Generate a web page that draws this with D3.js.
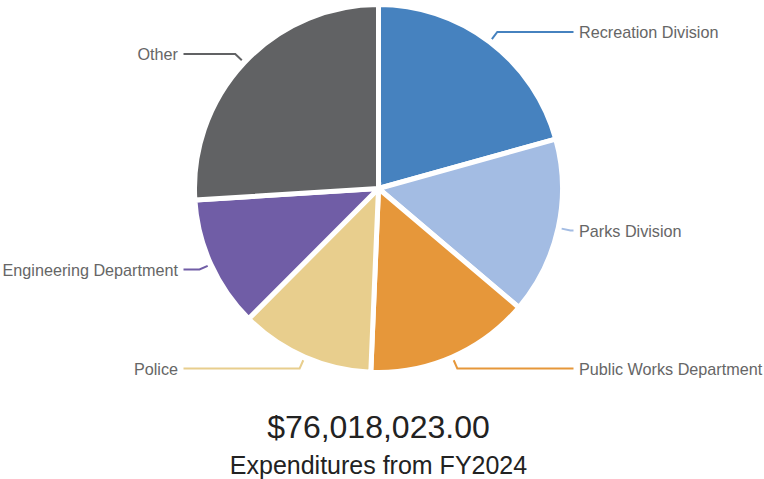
<!DOCTYPE html>
<html>
<head>
<meta charset="utf-8">
<script src="https://cdn.jsdelivr.net/npm/d3@7"></script>
<style>
  html, body { margin: 0; padding: 0; background: #fff; }
  svg { display: block; font-family: "Liberation Sans", Arial, Helvetica, sans-serif; }
</style>
</head>
<body>
<svg id="chart" width="764" height="479"></svg>
<script>
// Expenditure by department, FY2024
const departments = ["Recreation Division", "Parks Division", "Public Works Department", "Police", "Engineering Department", "Other"];
const amounts = [15712000, 11803000, 11001000, 8978000, 8757000, 19767023];
const sliceColors = ["#4682BF", "#A3BCE3", "#E6973A", "#E8CE8D", "#705DA6", "#616264"];
const subtitleText = "Expenditures from FY2024";

const width = 764, height = 479;
const cx = 378.5, cy = 188.5, radius = 184;

const svg = d3.select("#chart");
const color = d3.scaleOrdinal().domain(departments).range(sliceColors);

const rows = departments.map((name, i) => ({ name, value: amounts[i] }));
const pie = d3.pie().value(d => d.value).sort(null);
const arcs = pie(rows);
const arc = d3.arc().innerRadius(0).outerRadius(radius);

const g = svg.append("g").attr("transform", `translate(${cx},${cy})`);

g.selectAll("path.slice")
  .data(arcs)
  .join("path")
  .attr("class", "slice")
  .attr("d", arc)
  .attr("fill", d => color(d.data.name))
  .attr("stroke", "#fff")
  .attr("stroke-width", 5)
  .attr("stroke-linejoin", "miter");

// Connectors: leave the rim on the slice's mid-angle, bend, then run level to the label
const startR = radius + 3.5, bendR = radius + 12.5, lineX = 195, textX = 200.5;
const labelData = arcs.map(d => {
  const a = (d.startAngle + d.endAngle) / 2;
  const sx = Math.sin(a), sy = -Math.cos(a);
  const right = sx >= 0;
  return {
    d, right,
    p0: [startR * sx, startR * sy],
    p1: [bendR * sx, bendR * sy],
    p2: [right ? lineX : -lineX, bendR * sy]
  };
});

g.selectAll("path.connector")
  .data(labelData)
  .join("path")
  .attr("class", "connector")
  .attr("d", l => d3.line()([l.p0, l.p1, l.p2]))
  .attr("fill", "none")
  .attr("stroke", l => color(l.d.data.name))
  .attr("stroke-width", 2);

g.selectAll("text.label")
  .data(labelData)
  .join("text")
  .attr("class", "label")
  .attr("x", l => l.right ? textX : -textX)
  .attr("y", l => l.p2[1])
  .attr("dy", "0.4em")
  .attr("text-anchor", l => l.right ? "start" : "end")
  .attr("font-size", 16.2)
  .attr("fill", "#666666")
  .text(l => l.d.data.name);

// Total and caption under the pie
const total = d3.sum(amounts);
const fmt = d3.format("$,.2f");

svg.append("text")
  .attr("x", cx)
  .attr("y", 437.5)
  .attr("text-anchor", "middle")
  .attr("font-size", 32)
  .attr("fill", "#222222")
  .text(fmt(total));

svg.append("text")
  .attr("x", cx)
  .attr("y", 473.5)
  .attr("text-anchor", "middle")
  .attr("font-size", 25)
  .attr("fill", "#222222")
  .text(subtitleText);
</script>
</body>
</html>
